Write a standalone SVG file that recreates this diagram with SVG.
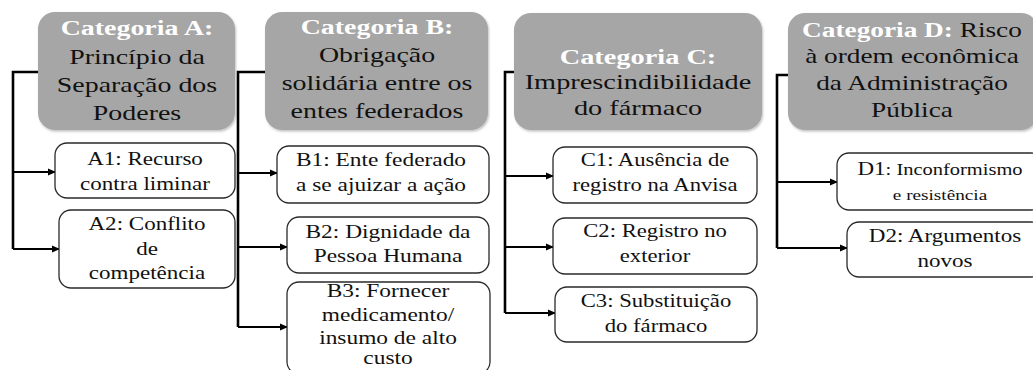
<svg xmlns="http://www.w3.org/2000/svg" width="1033" height="370" viewBox="0 0 1033 370">
<style>
.hd{fill:#a6a6a6;stroke:none}
.ch{fill:#ffffff;stroke:#2a2a2a;stroke-width:1.3}
text{font-family:"Liberation Serif","Times New Roman",serif;text-anchor:middle;fill:#111}
.ht{font-size:21px}
.hb{font-weight:bold;fill:#ffffff}
.ct{font-size:18px}
.cn{fill:none;stroke:#000;stroke-width:2.6}
.ar{fill:none;stroke:#000;stroke-width:2.2;marker-end:url(#ah)}
</style>
<defs>
<marker id="ah" markerWidth="8" markerHeight="8" refX="7" refY="4" orient="auto" markerUnits="userSpaceOnUse">
<path d="M0,0.5 L8,4 L0,7.5 Z" fill="#000"/>
</marker>
<filter id="sh" x="-5%" y="-5%" width="115%" height="115%">
<feDropShadow dx="1" dy="1.5" stdDeviation="1.2" flood-color="#000" flood-opacity="0.25"/>
</filter>
</defs>
<rect width="1033" height="370" fill="#ffffff"/>

<g id="connectors">
<path class="cn" d="M39,72 H13 V249"/>
<path class="ar" d="M13,172 H55"/>
<path class="ar" d="M13,249 H59"/>
<path class="cn" d="M266,72 H238 V327"/>
<path class="ar" d="M238,173 H277"/>
<path class="ar" d="M238,247 H287"/>
<path class="ar" d="M238,327 H287"/>
<path class="cn" d="M515,72 H505 V313"/>
<path class="ar" d="M505,176 H553"/>
<path class="ar" d="M505,247 H553"/>
<path class="ar" d="M505,313 H555"/>
<path class="cn" d="M789,75 H777 V248"/>
<path class="ar" d="M777,182 H837"/>
<path class="ar" d="M777,248 H847"/>
</g>

<g id="catA">
<rect class="hd" filter="url(#sh)" x="38" y="12" width="197" height="118" rx="17"/>
<g transform="translate(137 0) scale(1.33 1)">
<text class="ht hb" y="35">Categoria A:</text>
<text class="ht" y="64">Princípio da</text>
<text class="ht" y="92">Separação dos</text>
<text class="ht" y="120">Poderes</text>
</g>
</g>
<g id="catB">
<rect class="hd" filter="url(#sh)" x="265" y="12" width="223" height="118" rx="17"/>
<g transform="translate(377 0) scale(1.33 1)">
<text class="ht hb" y="34">Categoria B:</text>
<text class="ht" y="62">Obrigação</text>
<text class="ht" y="90">solidária entre os</text>
<text class="ht" y="118">entes federados</text>
</g>
</g>
<g id="catC">
<rect class="hd" filter="url(#sh)" x="514" y="13" width="248" height="117" rx="17"/>
<g transform="translate(638 0) scale(1.35 1)">
<text class="ht hb" y="64">Categoria C:</text>
<text class="ht" y="89">Imprescindibilidade</text>
<text class="ht" y="115">do fármaco</text>
</g>
</g>
<g id="catD">
<rect class="hd" filter="url(#sh)" x="788" y="13" width="250" height="117" rx="17"/>
<g transform="translate(912 0) scale(1.3 1)">
<text class="ht" y="37"><tspan class="hb">Categoria D:</tspan> Risco</text>
<text class="ht" y="63">à ordem econômica</text>
<text class="ht" y="90">da Administração</text>
<text class="ht" y="117">Pública</text>
</g>
</g>

<g id="A1">
<rect class="ch" x="55" y="143" width="180" height="55" rx="12"/>
<g transform="translate(145 0) scale(1.28 1)">
<text class="ct" y="165">A1: Recurso</text>
<text class="ct" y="190">contra liminar</text>
</g>
</g>
<g id="A2">
<rect class="ch" x="59" y="210" width="176" height="78" rx="12"/>
<g transform="translate(147 0) scale(1.28 1)">
<text class="ct" y="230">A2: Conflito</text>
<text class="ct" y="255">de</text>
<text class="ct" y="279">competência</text>
</g>
</g>
<g id="B1">
<rect class="ch" x="277" y="146" width="212" height="57" rx="12"/>
<g transform="translate(381 0) scale(1.3 1)">
<text class="ct" y="166">B1: Ente federado</text>
<text class="ct" y="191">a se ajuizar a ação</text>
</g>
</g>
<g id="B2">
<rect class="ch" x="287" y="217" width="202" height="56" rx="12"/>
<g transform="translate(388 0) scale(1.3 1)">
<text class="ct" y="238">B2: Dignidade da</text>
<text class="ct" y="262">Pessoa Humana</text>
</g>
</g>
<g id="B3">
<rect class="ch" x="287" y="282" width="203" height="92" rx="12"/>
<g transform="translate(388 0) scale(1.3 1)">
<text class="ct" y="297">B3: Fornecer</text>
<text class="ct" y="321">medicamento/</text>
<text class="ct" y="344">insumo de alto</text>
<text class="ct" y="364">custo</text>
</g>
</g>
<g id="C1">
<rect class="ch" x="553" y="147" width="204" height="56" rx="12"/>
<g transform="translate(655 0) scale(1.26 1)">
<text class="ct" y="166">C1: Ausência de</text>
<text class="ct" y="191">registro na Anvisa</text>
</g>
</g>
<g id="C2">
<rect class="ch" x="553" y="218" width="204" height="56" rx="12"/>
<g transform="translate(655 0) scale(1.26 1)">
<text class="ct" y="237">C2: Registro no</text>
<text class="ct" y="262">exterior</text>
</g>
</g>
<g id="C3">
<rect class="ch" x="555" y="287" width="202" height="55" rx="12"/>
<g transform="translate(656 0) scale(1.26 1)">
<text class="ct" y="307">C3: Substituição</text>
<text class="ct" y="332">do fármaco</text>
</g>
</g>
<g id="D1">
<rect class="ch" x="837" y="153" width="206" height="57" rx="12"/>
<g transform="translate(940 0) scale(1.28 1)">
<text class="ct" y="175">D1<tspan style="font-size:16px">: Inconformismo</tspan></text>
<text y="200" style="font-size:15px">e resistência</text>
</g>
</g>
<g id="D2">
<rect class="ch" x="847" y="222" width="196" height="55" rx="12"/>
<g transform="translate(945 0) scale(1.28 1)">
<text class="ct" y="242">D2: Argumentos</text>
<text class="ct" y="267">novos</text>
</g>
</g>
</svg>
